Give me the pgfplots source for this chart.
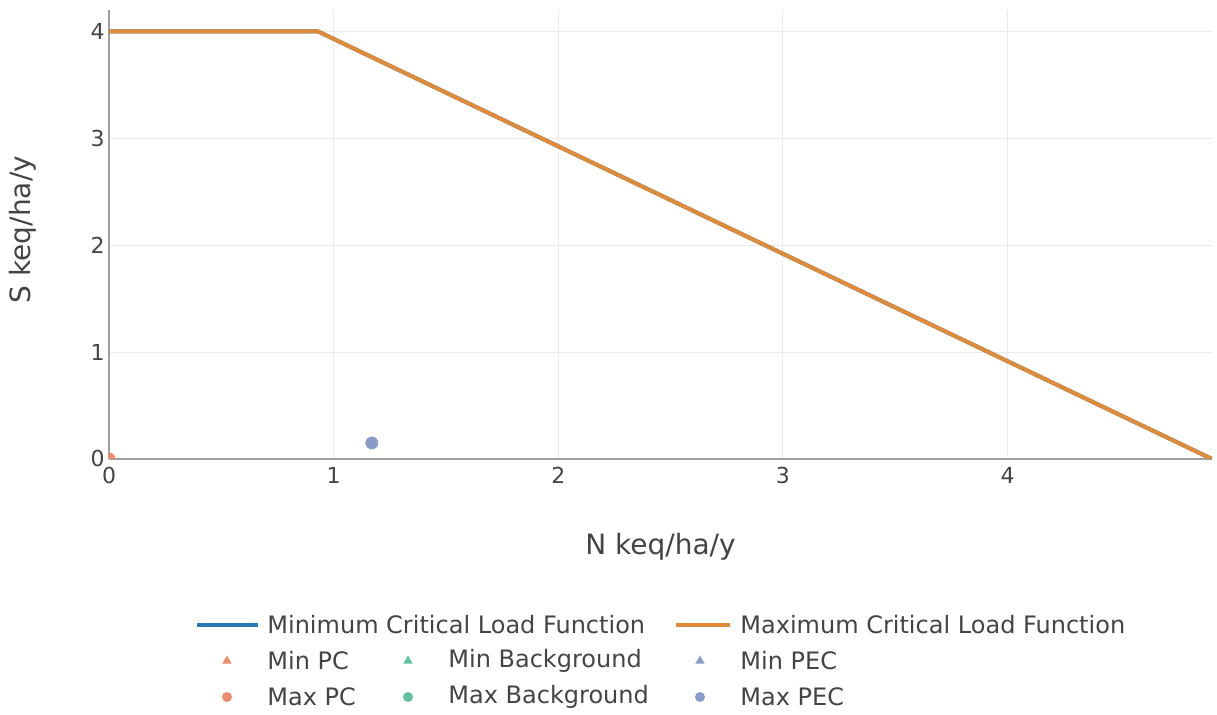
\documentclass[border=0pt]{standalone}
\usepackage{pgfplots}
\pgfplotsset{compat=1.18}
\usetikzlibrary{shapes.geometric}
\usepackage{fontspec}
\setmainfont{DejaVu Sans}
\definecolor{clfblue}{HTML}{2A78B4}
\definecolor{clforange}{HTML}{DF8B3A}
\definecolor{pcred}{HTML}{F08A6C}
\definecolor{bggreen}{HTML}{5EC2A0}
\definecolor{pecblue}{HTML}{8A9BCB}
\definecolor{axgrey}{HTML}{A0A0A0}
\definecolor{txtgrey}{HTML}{444444}
\definecolor{gridgrey}{HTML}{EBEBEB}
\pgfplotsset{layers/gridbelow/.define layer set={axis background,axis grid,main,axis ticks,axis lines,axis tick labels,axis descriptions,axis foreground}{}}
\begin{document}
\begin{tikzpicture}
\begin{axis}[
  set layers=gridbelow,
  at={(0pt,0pt)}, anchor=south west,
  scale only axis, width=551.5pt, height=224.5pt,
  xmin=0, xmax=4.91, ymin=0, ymax=4.2,
  axis x line=bottom, axis y line=left,
  axis line style={axgrey, line width=1.2pt, -},
  xtick={0,1,2,3,4}, ytick={0,1,2,3,4},
  major tick length=0pt,
  grid=major, major grid style={gridgrey, line width=0.5pt},
  clip marker paths=true,
  /pgf/number format/assume math mode=true,
  tick label style={font=\fontsize{11}{13}\selectfont, text=txtgrey, inner sep=0pt},
  xticklabel style={anchor=north, yshift=-4pt},
  yticklabel style={anchor=east, xshift=-2pt},
  xlabel={N keq/ha/y}, ylabel={S keq/ha/y},
  every axis x label/.style={at={(axis description cs:0.5,-0.196)}, anchor=center,
     font=\fontsize{14}{16}\selectfont, text=txtgrey},
  every axis y label/.style={at={(axis description cs:-0.0784,0.511)}, anchor=center, rotate=90,
     font=\fontsize{14}{16}\selectfont, text=txtgrey},
]
\addplot[clfblue, line width=2pt] coordinates {(0,4.0) (0.93,4.0) (4.91,0)};
\addplot[clforange, line width=2pt] coordinates {(0,4.0) (0.93,4.0) (4.91,0)};
\addplot[only marks, mark=*, mark size=3pt, pcred, mark options={draw=none}] coordinates {(0,0)};
\addplot[only marks, mark=*, mark size=3pt, pecblue, mark options={draw=none}] coordinates {(1.17,0.15)};
\end{axis}
\begin{scope}[x=0.5pt,y=-0.5pt,shift={(-54.5pt,229.5pt)}]
\path (0,0) rectangle (1217,715);
\tikzset{lg/.style={anchor=west, inner sep=0pt, text=txtgrey, font=\fontsize{12}{14}\selectfont},
  tri/.style={regular polygon, regular polygon sides=3, inner sep=0pt, minimum size=5.5pt}}
% row 1
\draw[clfblue, line width=2pt] (197,625) -- (258,625);
\node[lg] at (267,625) {Minimum Critical Load Function};
\draw[clforange, line width=2pt] (676,625) -- (730,625);
\node[lg] at (740,625) {Maximum Critical Load Function};
% row 2
\node[fill=pcred, tri] at (227,661) {};
\node[lg] at (267,661) {Min PC};
\node[fill=bggreen, tri] at (408,661) {};
\node[lg] at (448,661) {Min Background};
\node[fill=pecblue, tri] at (700,661) {};
\node[lg] at (740,661) {Min PEC};
% row 3
\fill[pcred] (227,697) circle (2.5pt);
\node[lg] at (267,697) {Max PC};
\fill[bggreen] (408,697) circle (2.5pt);
\node[lg] at (448,697) {Max Background};
\fill[pecblue] (700,697) circle (2.5pt);
\node[lg] at (740,697) {Max PEC};
\end{scope}
\end{tikzpicture}
\end{document}
